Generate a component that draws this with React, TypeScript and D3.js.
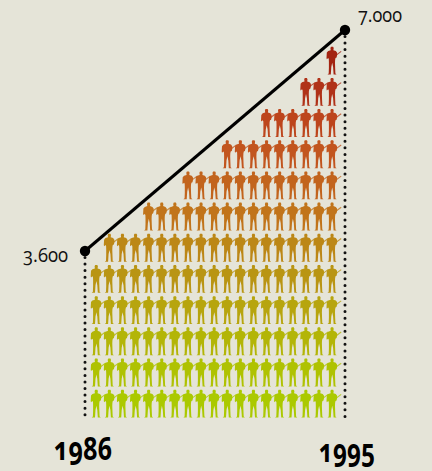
import React from 'react';
import * as d3 from 'd3';

const years = [1986, 1995];
const totals = [3600, 7000];
const totalLabels = ['3.600', '7.000'];
// soldiers per row, bottom row first
const rowCounts = [19, 19, 19, 19, 19, 18, 15, 12, 9, 6, 3, 1];
const rowColors = ['#abc900', '#afc202', '#b3b507', '#b7a50e', '#b99513', '#bc8716', '#c1741a', '#c2641d', '#c2551e', '#bd451c', '#b03218', '#a32411'];

const W = 432;
const H = 471;
const BG = '#e5e4d8';
const FONT = '"Open Sans", Lato, sans-serif';

const SOLDIER =
  'M-1,-14.3 L1.1,-14.3 L1.7,-13 L1.4,-10.8 L3.8,-10 L5,-8.4 L5.2,-6.4 L4.6,-3.6 L3.5,-3 ' +
  'L3.1,-1 L3,2 L3.2,8 L3.4,12.6 L4.6,13.6 L1.6,13.6 L1.1,6 L0.2,1.8 L-0.7,6 L-1.2,13.6 L-4.5,13.6 L-3.3,12.6 L-3.1,7 L-3.1,1 L-3.2,-2 ' +
  'L-3.8,-3 L-5.2,-1.8 L-5.5,-3 L-5.2,-8.4 L-3.8,-10 L-1.3,-10.8 L-1.6,-13 Z';
const RIFLE = 'M3.5,-5.4 L9.2,-9.6';

export default function App() {
  const x = d3.scaleLinear().domain(years).range([85, 345]);
  const y = d3.scaleLinear().domain(totals).range([251, 30]);
  const baseline = 417;

  const col = d3.scaleLinear().domain([0, 18]).range([332, 96.2]);
  const row = d3.scaleLinear().domain([0, 11]).range([404, 61]);

  const line = d3.line<number>().x((_, i) => x(years[i])).y((d) => y(d));

  const onum = { fontFeatureSettings: '"onum"' };

  return (
    <svg
      width={W}
      height={H}
      style={{ position: 'fixed', left: 0, top: 0, background: BG, fontFamily: FONT }}
    >
      <rect width={W} height={H} fill={BG} />
      {rowCounts.map((count, r) =>
        d3.range(count).map((c) => (
          <g key={`${r}-${c}`} transform={`translate(${col(c)},${row(r)})`}>
            <path d={RIFLE} fill="none" stroke={rowColors[r]} strokeWidth={1.1} opacity={0.8} />
            <path d={SOLDIER} fill={rowColors[r]} />
          </g>
        )),
      )}
      {years.map((yr, i) => (
        <line
          key={yr}
          x1={x(yr)}
          x2={x(yr)}
          y1={y(totals[i]) + 6.5}
          y2={baseline}
          stroke="#111"
          strokeWidth={3}
          strokeLinecap="round"
          strokeDasharray="0 6.55"
        />
      ))}
      <path d={line(totals) ?? ''} fill="none" stroke="#000" strokeWidth={3} />
      {years.map((yr, i) => (
        <circle key={yr} cx={x(yr)} cy={y(totals[i])} r={5.2} fill="#000" />
      ))}
      <text x={23} y={262} fontSize={20} fill="#111" textLength={45} lengthAdjust="spacingAndGlyphs" style={onum}>
        {totalLabels[0]}
      </text>
      <text x={358} y={22} fontSize={20} fill="#111" textLength={44} lengthAdjust="spacingAndGlyphs" style={onum}>
        {totalLabels[1]}
      </text>
      <text x={54} y={460} fontSize={33} fontWeight={700} fill="#000" textLength={58} lengthAdjust="spacingAndGlyphs" style={onum}>
        {years[0]}
      </text>
      <text x={319} y={462} fontSize={33} fontWeight={700} fill="#000" textLength={56} lengthAdjust="spacingAndGlyphs" style={onum}>
        {years[1]}
      </text>
    </svg>
  );
}
